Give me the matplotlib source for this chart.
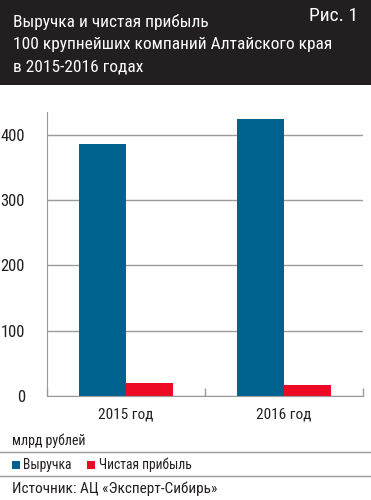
import matplotlib
matplotlib.use("Agg")
import matplotlib.pyplot as plt
from matplotlib import font_manager
from matplotlib.patches import Rectangle
from matplotlib.lines import Line2D

categories = ["2015 год", "2016 год"]
revenue = [386, 424]
profit = [20, 17]
yticks = [0, 100, 200, 300, 400]
series_names = ["Выручка", "Чистая прибыль"]
title_lines = ["Выручка и чистая прибыль",
               "100 крупнейших компаний Алтайского края",
               "в 2015-2016 годах"]
fig_label = "Рис. 1"
unit_label = "млрд рублей"
source = "Источник: АЦ «Эксперт-Сибирь»"

names = {f.name for f in font_manager.fontManager.ttflist}
fam = None
for cand in ["Liberation Sans Narrow", "Roboto Condensed", "Open Sans Condensed", "DejaVu Sans Condensed"]:
    if cand in names:
        fam = cand
        break
if fam is None:
    fam = "Liberation Sans"
plt.rcParams['font.family'] = [fam, 'DejaVu Sans']

BLUE = "#00628f"
RED = "#ee0a24"
DARK = "#231f20"
GRID = "#9a9a9a"

W, H = 371, 500
fig = plt.figure(figsize=(W/100, H/100), dpi=100)
fig.patch.set_facecolor("white")

def fx(px): return px / W
def fy(py): return 1 - py / H

# header
fig.add_artist(Rectangle((0, fy(85)), 1, 85/H, transform=fig.transFigure,
                         facecolor=DARK, edgecolor="none", zorder=0))
for i, t in enumerate(title_lines):
    fig.text(fx(13), fy(22 + i*22.5), t, color="white", fontsize=12.5,
             va="center", ha="left")
fig.text(fx(358), fy(16), fig_label, color="white", fontsize=14, va="center", ha="right")

ax = fig.add_axes([fx(47), fy(396), fx(363) - fx(47), (396 - 112)/H])
x = [0, 1]
bw = 0.30
ax.bar([i - bw/2 for i in x], revenue, width=bw, color=BLUE, zorder=3)
ax.bar([i + bw/2 for i in x], profit, width=bw, color=RED, zorder=3)
ax.set_xlim(-0.5, 1.5)
ax.set_ylim(0, 435)
ax.set_yticks(yticks)
ax.set_yticklabels([str(v) for v in yticks], fontsize=12, color=DARK)
ax.yaxis.grid(True, color=GRID, linewidth=1, zorder=0)
ax.tick_params(axis="y", length=0, pad=16)
ax.set_xticks([-0.5, 0.5, 1.5], minor=False)
ax.set_xticklabels([])
ax.tick_params(axis="x", direction="in", length=6, color=GRID, width=1)
ax.set_xticks(x, minor=True)
ax.set_xticklabels(categories, minor=True, fontsize=11, color=DARK)
ax.tick_params(axis="x", which="minor", length=0, pad=8)
for s in ["top", "right"]:
    ax.spines[s].set_visible(False)
ax.spines["left"].set_color(GRID)
ax.spines["bottom"].set_color(GRID)
ax.spines["left"].set_zorder(4)
ax.spines["bottom"].set_zorder(4)

fig.text(fx(12), fy(441), unit_label, color=DARK, fontsize=10, va="center", ha="left")
fig.add_artist(Line2D([0, 1], [fy(452), fy(452)], transform=fig.transFigure, color=GRID, lw=1))
fig.add_artist(Line2D([0, 1], [fy(476), fy(476)], transform=fig.transFigure, color=GRID, lw=1))

# legend
sq = 8
fig.add_artist(Rectangle((fx(12), fy(465 + sq/2)), sq/W, sq/H, transform=fig.transFigure,
                         facecolor=BLUE, edgecolor="none"))
fig.text(fx(23), fy(465), series_names[0], color=DARK, fontsize=9.8, va="center", ha="left")
fig.add_artist(Rectangle((fx(87), fy(465 + sq/2)), sq/W, sq/H, transform=fig.transFigure,
                         facecolor=RED, edgecolor="none"))
fig.text(fx(99), fy(465), series_names[1], color=DARK, fontsize=9.8, va="center", ha="left")

fig.text(fx(12), fy(489), source, color=DARK, fontsize=11, va="center", ha="left")

fig.savefig("out.png", dpi=100)
